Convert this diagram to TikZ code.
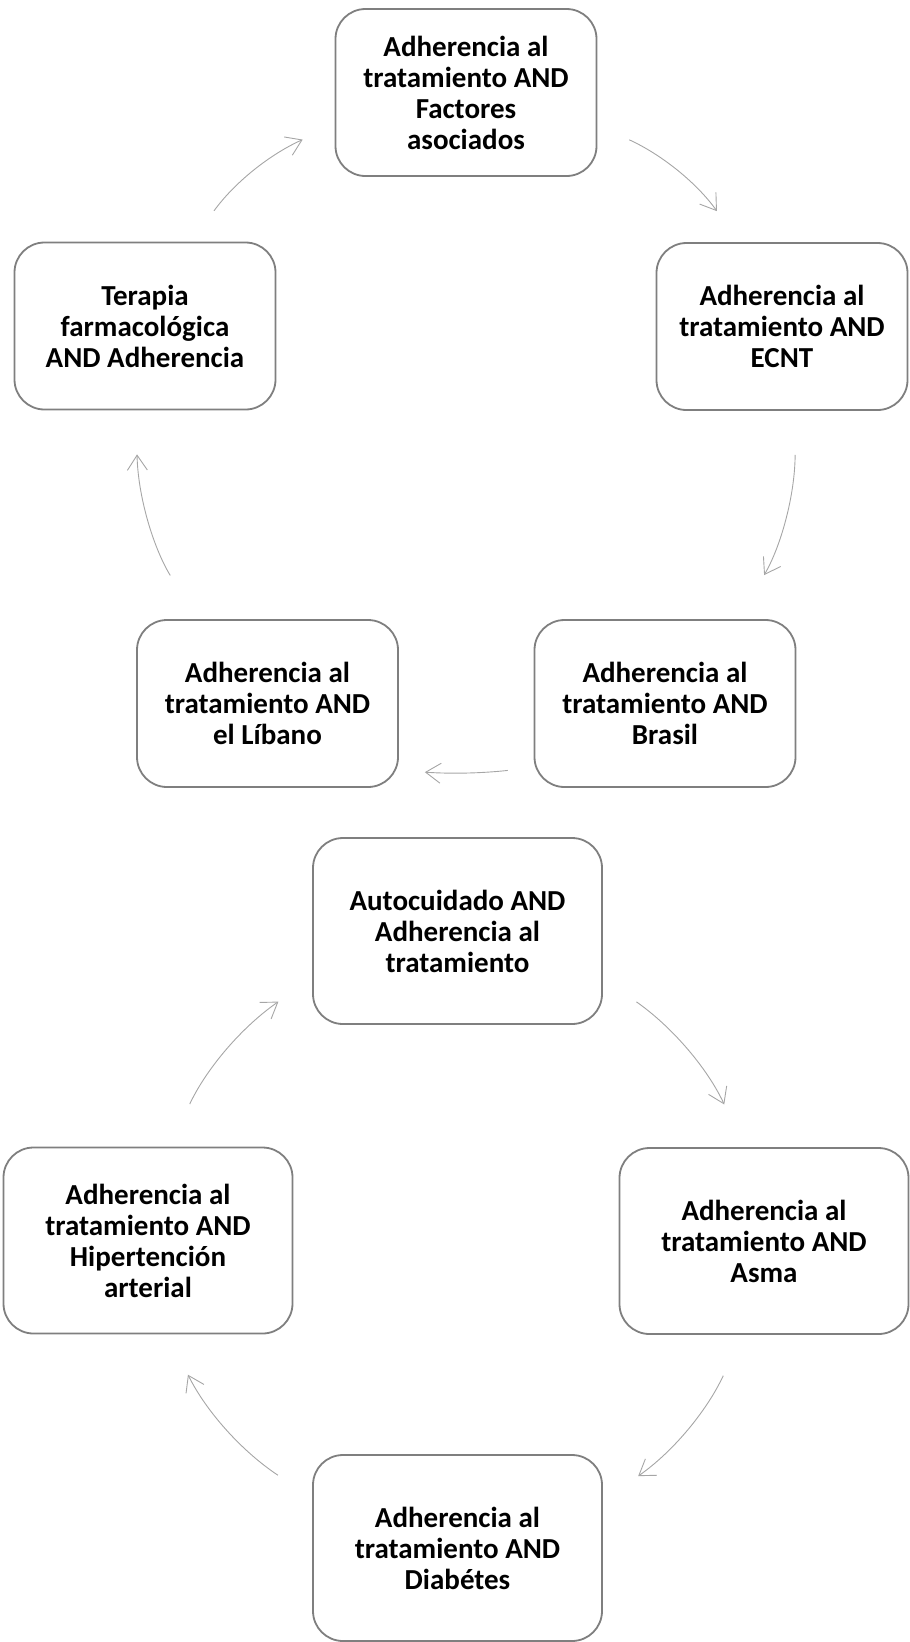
\documentclass[tikz,border=0pt]{standalone}
\usepackage{fontspec}
\setmainfont{Carlito}
\usetikzlibrary{arrows.meta}
\definecolor{borde}{HTML}{7F7F7F}
\definecolor{trazo}{HTML}{A6A6A6}
\tikzstyle{caja}=[rectangle, rounded corners=30pt, draw=borde, line width=1.8pt, fill=white, align=center, inner sep=0pt, minimum width=261pt, minimum height=167pt, font=\bfseries\fontsize{29}{31}\selectfont]
\tikzstyle{cajagrande}=[caja, minimum width=289pt, minimum height=186pt]
\tikzstyle{flecha}=[draw=trazo, line width=0.9pt, -{Straight Barb[length=15pt, width=20pt]}]

\begin{document}
\begin{tikzpicture}[x=1pt, y=-1pt]
	\useasboundingbox (0,0) rectangle (910,1642);
	\begin{scope}
		\node (factores) at (466,92.5)[caja] {Adherencia al\\tratamiento AND\\Factores\\asociados};
		\node (ecnt) at (782,326.5)[caja, minimum width=251pt] {Adherencia al\\tratamiento AND\\ECNT};
		\node (brasil) at (665,703.5)[caja] {Adherencia al\\tratamiento AND\\Brasil};
		\node (libano) at (267.5,703.5)[caja] {Adherencia al\\tratamiento AND\\el Líbano};
		\node (terapia) at (145,326)[caja] {Terapia\\farmacológica\\AND Adherencia};
	\end{scope}
	\begin{scope}
		\node (autocuidado) at (457.5,931)[cajagrande] {Autocuidado AND\\Adherencia al\\tratamiento};
		\node (asma) at (764,1241)[cajagrande] {Adherencia al\\tratamiento AND\\Asma};
		\node (diabetes) at (457.5,1548)[cajagrande] {Adherencia al\\tratamiento AND\\Diabétes};
		\node (hipertension) at (148,1240.5)[cajagrande] {Adherencia al\\tratamiento AND\\Hipertención\\arterial};
	\end{scope}
	\begin{scope}
		\draw [flecha, shorten <=35pt, shorten >=38pt] (factores.-14) to[bend left=15] (ecnt.117);
		\draw [flecha, shorten <=44pt, shorten >=51pt] (ecnt.-81) to[bend left=15] (brasil.49);
		\draw [flecha, shorten <=26pt, shorten >=26pt] (brasil.206) to[bend left=5] (libano.-27);
		\draw [flecha, shorten <=51pt, shorten >=44pt] (libano.130) to[bend left=15] (terapia.264);
		\draw [flecha, shorten <=38pt, shorten >=35pt] (terapia.61) to[bend left=15] (factores.194);
	\end{scope}
	\begin{scope}
		\draw [flecha, shorten <=41pt, shorten >=47pt] (autocuidado.-18) to[bend left=15] (asma.102);
		\draw [flecha, shorten <=45pt, shorten >=43pt] (asma.257) to[bend left=15] (diabetes.18);
		\draw [flecha, shorten <=41pt, shorten >=45pt] (diabetes.161) to[bend left=15] (hipertension.-78);
		\draw [flecha, shorten <=47pt, shorten >=41pt] (hipertension.77) to[bend left=15] (autocuidado.198);
	\end{scope}
\end{tikzpicture}
\end{document}
